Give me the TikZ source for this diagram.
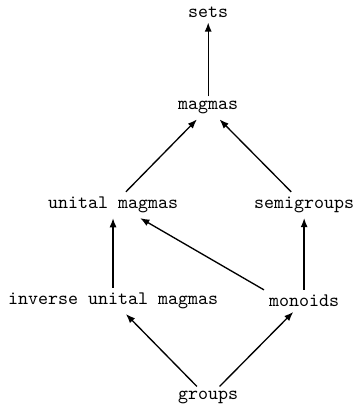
\documentclass[tikz,border=0pt]{standalone}
\usetikzlibrary{arrows.meta}
\tikzset{
  cat/.style={font=\ttfamily, inner sep=2.5pt},
  forget/.style={-{Latex[length=1.7mm,width=1.3mm]}, line width=0.7pt}
}
\begin{document}
\begin{tikzpicture}
\useasboundingbox (0,0) rectangle (6.59,7.47);

% categories
\node[cat] (sets) at (3.84,7.25) {sets};
\node[cat] (magmas) at (3.84,5.48) {magmas};
\node[cat] (unital) at (2.085,3.69) {unital magmas};
\node[cat] (semigroups) at (5.61,3.69) {semigroups};
\node[cat] (inverse) at (2.085,1.92) {inverse unital magmas};
\node[cat] (monoids) at (5.61,1.92) {monoids};
\node[cat] (groups) at (3.84,0.13) {groups};

% forgetful arrows
\foreach \a/\b in {magmas/sets, unital/magmas, semigroups/magmas,
  inverse/unital, monoids/semigroups, groups/inverse, groups/monoids}
  \draw[forget] (\a) -- (\b);
\draw[forget] (monoids.north west) -- ([xshift=5mm]unital.south);
\end{tikzpicture}
\end{document}
